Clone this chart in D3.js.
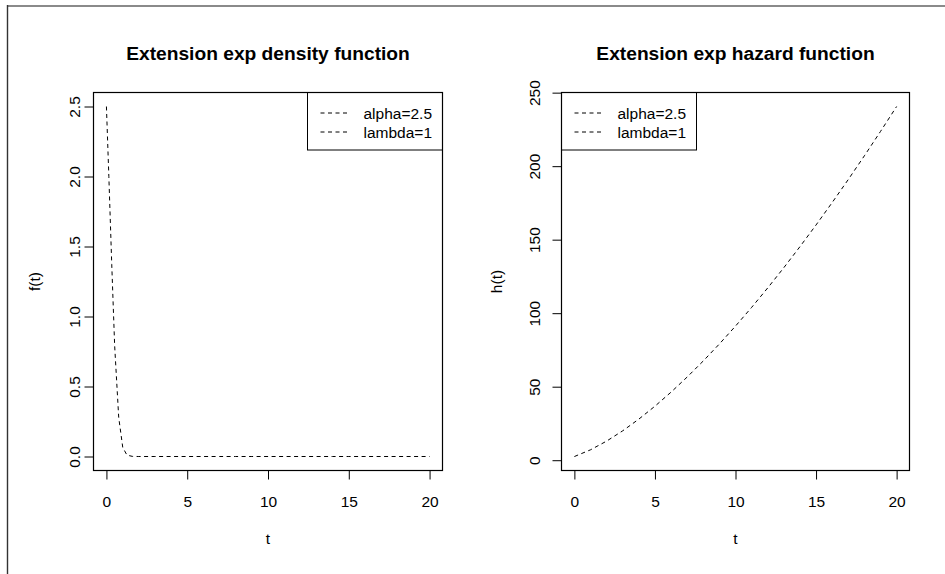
<!DOCTYPE html>
<html>
<head>
<meta charset="utf-8">
<script src="https://cdn.jsdelivr.net/npm/d3@7"></script>
<style>
  html, body { margin: 0; padding: 0; background: #fff; }
  svg { display: block; font-family: "Liberation Sans", Arial, sans-serif; }
</style>
</head>
<body>
<svg id="chart" width="945" height="574"></svg>
<script>
// Extension exponential distribution, alpha = 2.5, lambda = 1
const densityT = [0, 0.15, 0.33, 0.51, 0.76, 1.01, 1.27, 1.6, 2, 3, 4, 5, 6, 7, 8, 9, 10,
                  11, 12, 13, 14, 15, 16, 17, 18, 19, 20];
const densityF = [2.5, 2.0, 1.37, 0.79, 0.28, 0.065, 0.01, 0.001, 0, 0, 0, 0, 0, 0, 0, 0, 0,
                  0, 0, 0, 0, 0, 0, 0, 0, 0, 0];

const hazardT = [0, 1, 2, 3, 4, 5, 6, 7, 8, 9, 10, 11, 12, 13, 14, 15, 16, 17, 18, 19, 20];
const hazardH = [2.5, 7.07, 12.99, 20.0, 27.95, 36.74, 46.3, 56.57, 67.5, 79.06, 91.21,
                 103.92, 117.18, 130.96, 145.24, 160.0, 175.24, 190.92, 207.05, 223.61, 240.57];

const xTickValues = [0, 5, 10, 15, 20];
const densityYTicks = [0, 0.5, 1.0, 1.5, 2.0, 2.5];
const densityYLabels = ["0.0", "0.5", "1.0", "1.5", "2.0", "2.5"];
const hazardYTicks = [0, 50, 100, 150, 200, 250];
const hazardYLabels = ["0", "50", "100", "150", "200", "250"];

const legendLabels = ["alpha=2.5", "lambda=1"];

const titles = ["Extension exp density function", "Extension exp hazard function"];
const yTitles = ["f(t)", "h(t)"];
const xTitle = "t";

const svg = d3.select("#chart");

// outer frame (top and left edges)
svg.append("line").attr("x1", 7).attr("x2", 945).attr("y1", 6).attr("y2", 6)
  .attr("stroke", "#8a8a8a").attr("stroke-width", 2);
svg.append("line").attr("x1", 7.5).attr("x2", 7.5).attr("y1", 5).attr("y2", 574)
  .attr("stroke", "#333").attr("stroke-width", 1.4);

const DASH = "4,3.5";
const FS = 15.5;

function panel(opts) {
  const { left, right, top, bottom, xs, ys, yDomain, yTicks, yLabels,
          title, yTitle, tickLabelOffset, yTitleOffset, legendX } = opts;

  const x = d3.scaleLinear().domain([-0.8, 20.8]).range([left, right]);
  const y = d3.scaleLinear().domain(yDomain).range([bottom, top]);

  const g = svg.append("g");

  // title
  g.append("text")
    .attr("x", (left + right) / 2).attr("y", 60)
    .attr("text-anchor", "middle")
    .attr("font-weight", "bold").attr("font-size", 19.2)
    .attr("fill", "#000")
    .text(title);

  // curve
  const line = d3.line().x(d => x(d[0])).y(d => y(d[1]));
  g.append("path")
    .datum(xs.map((t, i) => [t, ys[i]]))
    .attr("d", line)
    .attr("fill", "none").attr("stroke", "#000").attr("stroke-width", 1)
    .attr("stroke-dasharray", DASH);

  // x axis
  const xAxis = d3.axisBottom(x).tickValues(xTickValues).tickSize(9).tickFormat(d3.format("d"));
  const gx = g.append("g").attr("transform", `translate(0,${bottom})`).call(xAxis);
  gx.select(".domain").remove();
  gx.selectAll(".tick line").attr("stroke", "#000").attr("stroke-width", 1);
  gx.selectAll(".tick text")
    .attr("y", 36).attr("dy", 0)
    .attr("font-size", FS).attr("font-family", "Liberation Sans, Arial, sans-serif")
    .attr("fill", "#000");

  // y axis
  const yAxis = d3.axisLeft(y).tickValues(yTicks).tickSize(9)
    .tickFormat((d, i) => yLabels[i]);
  const gy = g.append("g").attr("transform", `translate(${left},0)`).call(yAxis);
  gy.select(".domain").remove();
  gy.selectAll(".tick line").attr("stroke", "#000").attr("stroke-width", 1);
  gy.selectAll(".tick text")
    .attr("x", null).attr("dy", null).attr("y", null)
    .attr("transform", `translate(${-tickLabelOffset},0) rotate(-90)`)
    .attr("text-anchor", "middle")
    .attr("font-size", FS).attr("font-family", "Liberation Sans, Arial, sans-serif")
    .attr("fill", "#000");

  // axis titles
  g.append("text")
    .attr("x", (left + right) / 2).attr("y", 544)
    .attr("text-anchor", "middle").attr("font-size", FS).attr("fill", "#000")
    .text(xTitle);
  g.append("text")
    .attr("transform", `translate(${left - yTitleOffset},${(top + bottom) / 2}) rotate(-90)`)
    .attr("text-anchor", "middle").attr("font-size", FS).attr("fill", "#000")
    .text(yTitle);

  // legend
  const lg = g.append("g");
  lg.append("rect")
    .attr("x", legendX).attr("y", top)
    .attr("width", 135).attr("height", 57.5)
    .attr("fill", "#fff").attr("stroke", "#000").attr("stroke-width", 1);
  legendLabels.forEach((lab, i) => {
    const cy = top + 20.5 + i * 19;
    lg.append("line")
      .attr("x1", legendX + 13).attr("x2", legendX + 43)
      .attr("y1", cy).attr("y2", cy)
      .attr("stroke", "#000").attr("stroke-width", 1).attr("stroke-dasharray", DASH);
    lg.append("text")
      .attr("x", legendX + 56).attr("y", cy + 5.5)
      .attr("font-size", FS).attr("fill", "#000")
      .text(lab);
  });

  // plot box
  g.append("rect")
    .attr("x", left).attr("y", top)
    .attr("width", right - left).attr("height", bottom - top)
    .attr("fill", "none").attr("stroke", "#000").attr("stroke-width", 1.2);
}

panel({
  left: 93.5, right: 442.5, top: 92.5, bottom: 470.5,
  xs: densityT, ys: densityF, yDomain: [-0.1, 2.6],
  yTicks: densityYTicks, yLabels: densityYLabels,
  title: titles[0], yTitle: yTitles[0],
  tickLabelOffset: 13.5, yTitleOffset: 53.5, legendX: 307.5
});

panel({
  left: 561.5, right: 909.5, top: 92.5, bottom: 470.5,
  xs: hazardT, ys: hazardH, yDomain: [-7.0, 250.1],
  yTicks: hazardYTicks, yLabels: hazardYLabels,
  title: titles[1], yTitle: yTitles[1],
  tickLabelOffset: 21.5, yTitleOffset: 59.5, legendX: 561.5
});
</script>
</body>
</html>
